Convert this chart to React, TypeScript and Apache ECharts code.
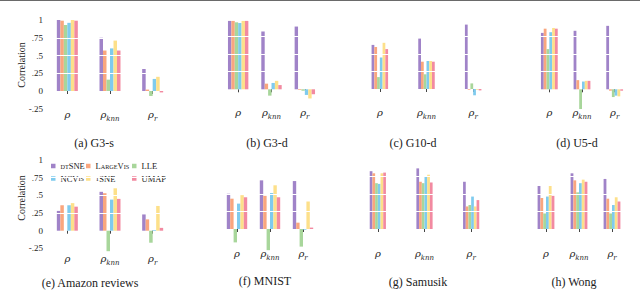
import React, { useEffect, useRef } from 'react';
import * as echarts from 'echarts';

// ---- data ----
const METHODS = ['dtSNE', 'LargeVis', 'LLE', 'NCVis', 'tSNE', 'UMAP'];
const CATEGORIES = ['rho', 'rho_knn', 'rho_r'];
const Y_TICKS = [-0.25, 0, 0.25, 0.5, 0.75, 1];
const Y_TICK_LABELS = ['-.25', '0', '.25', '.5', '.75', '1'];
const CAPTIONS = ['(a) G3-s', '(b) G3-d', '(c) G10-d', '(d) U5-d', '(e) Amazon reviews', '(f) MNIST', '(g) Samusik', '(h) Wong'];

// rows: methods (dtSNE, LargeVis, LLE, NCVis, tSNE, UMAP); columns: rho, rho_knn, rho_r
const G3S = [[1.0, 0.75, 0.31], [0.99, 0.57, 0.02], [0.93, 0.16, -0.07], [0.96, 0.6, 0.17], [1.0, 0.71, 0.2], [0.99, 0.57, -0.02]];
const G3D = [[0.97, 0.82, 0.89], [0.97, 0.08, -0.01], [0.95, -0.09, -0.02], [0.94, 0.09, -0.08], [0.97, 0.12, -0.13], [0.97, 0.06, -0.07]];
const G10D = [[0.63, 0.72, 0.92], [0.6, 0.39, -0.01], [0.17, 0.21, 0.08], [0.45, 0.4, -0.09], [0.66, 0.4, -0.01], [0.57, 0.39, -0.02]];
const U5D = [[0.8, 0.83, 0.9], [0.86, 0.13, -0.02], [0.57, -0.28, -0.11], [0.81, 0.11, -0.09], [0.87, 0.12, -0.1], [0.86, 0.12, -0.02]];
const AMAZON = [[0.28, 0.55, 0.23], [0.36, 0.53, 0.16], [0.0, -0.29, -0.17], [0.36, 0.44, 0.01], [0.39, 0.6, 0.35], [0.34, 0.45, 0.04]];
const MNIST = [[0.5, 0.69, 0.68], [0.43, 0.47, 0.09], [-0.19, -0.3, -0.25], [0.36, 0.51, -0.01], [0.48, 0.62, 0.39], [0.45, 0.45, 0.02]];
const SAMUSIK = [[0.82, 0.86, 0.67], [0.79, 0.67, 0.32], [0.65, 0.65, 0.34], [0.64, 0.75, 0.46], [0.79, 0.77, 0.32], [0.8, 0.66, 0.41]];
const WONG = [[0.61, 0.79, 0.71], [0.44, 0.69, 0.43], [0.22, 0.52, 0.22], [0.46, 0.65, 0.34], [0.61, 0.7, 0.45], [0.47, 0.67, 0.39]];
const PANEL_DATA = [G3S, G3D, G10D, U5D, AMAZON, MNIST, SAMUSIK, WONG];

// ---- styles / layout ----
const COLORS = ['#a083c8', '#f9a67e', '#a8d69b', '#7fcbee', '#fde08a', '#f28aa1'];
const SERIF = "'Liberation Serif', 'Times New Roman', 'DejaVu Serif', serif";
const MATH = "'DejaVu Serif', 'Liberation Serif', serif";
const LAYOUT = [
  { left: 46, width: 128, top: 20, zero: 91, barW: 3.5, off: 4.25, lm: 0.5, capX: 94, capY: 143, yLabels: true, corrY: 65 },
  { left: 221.5, width: 100, top: 18.8, zero: 89.3, barW: 3.4, off: 3, lm: 1.5, capX: 267, capY: 143, yLabels: false, corrY: 0 },
  { left: 356.5, width: 140, top: 19, zero: 89, barW: 2.75, off: 3, lm: 1.5, capX: 413, capY: 143, yLabels: false, corrY: 0 },
  { left: 533, width: 98, top: 18.8, zero: 89.3, barW: 2.8, off: 3, lm: 1.5, capX: 577, capY: 143, yLabels: false, corrY: 0 },
  { left: 46, width: 128, top: 160, zero: 230.7, barW: 3.5, off: 7, lm: 2, capX: 90, capY: 283, yLabels: true, corrY: 198 },
  { left: 220.5, width: 99, top: 158.5, zero: 229, barW: 3.4, off: 3, lm: 3, capX: 265, capY: 281, yLabels: false, corrY: 0 },
  { left: 354.5, width: 140, top: 158.5, zero: 229, barW: 2.7, off: 3, lm: 3, capX: 418, capY: 282, yLabels: false, corrY: 0 },
  { left: 529.5, width: 99, top: 158.5, zero: 229, barW: 2.8, off: 3, lm: 3, capX: 574, capY: 282, yLabels: false, corrY: 0 },
];
const LEGEND_POS = [
  { x: 51, y: 161.5 }, { x: 86, y: 161.5 }, { x: 132, y: 161.5 },
  { x: 51, y: 174 }, { x: 86, y: 174 }, { x: 132, y: 174 },
];
const LEGEND_RICH_TEXT: Record<string, string> = {
  dtSNE: '{sc|DT}{n|SNE}',
  LargeVis: '{n|L}{sc|ARGE}{n|V}{sc|IS}',
  LLE: '{n|LLE}',
  NCVis: '{n|NCV}{sc|IS}',
  tSNE: '{sc|T}{n|SNE}',
  UMAP: '{n|UMAP}',
};

function buildOption() {
  const grid: any[] = [];
  const xAxis: any[] = [];
  const yAxis: any[] = [];
  const series: any[] = [];
  const graphic: any[] = [];

  LAYOUT.forEach((L, gi) => {
    const height = 1.25 * (L.zero - L.top);
    grid.push({ left: L.left, top: L.top, width: L.width, height, containLabel: false });
    xAxis.push({
      type: 'category',
      gridIndex: gi,
      data: CATEGORIES,
      position: 'bottom',
      offset: L.off,
      axisLine: { show: false },
      axisTick: { show: true, alignWithLabel: true, interval: 0, length: 3, lineStyle: { color: '#444', width: 1 } },
      splitLine: { show: false },
      axisLabel: {
        interval: 0,
        hideOverlap: false,
        margin: L.lm,
        formatter: (v: string) =>
          v === 'rho' ? '{r|ρ}' : v === 'rho_knn' ? '{r|ρ}{s|knn}' : '{r|ρ}{s|r}',
        rich: {
          r: { fontFamily: MATH, fontStyle: 'italic', fontSize: 10, color: '#222', verticalAlign: 'bottom', lineHeight: 10, padding: [0, 0, 4, 0] },
          s: { fontFamily: MATH, fontStyle: 'italic', fontSize: 7, color: '#222', verticalAlign: 'bottom', lineHeight: 8, padding: [5, 0, 1, 0] },
        },
      },
    });
    yAxis.push({
      type: 'value',
      gridIndex: gi,
      min: -0.25,
      max: 1,
      interval: 0.25,
      axisLine: { show: false },
      axisTick: { show: false },
      splitLine: { show: false },
      axisLabel: {
        show: L.yLabels,
        margin: 3,
        fontFamily: SERIF,
        fontSize: 9,
        color: '#222',
        formatter: (v: number) => {
          const i = Y_TICKS.findIndex((t) => Math.abs(t - v) < 1e-6);
          return i >= 0 ? Y_TICK_LABELS[i] : '';
        },
      },
    });
    const data = PANEL_DATA[gi];
    METHODS.forEach((m, mi) => {
      series.push({
        type: 'bar',
        name: m,
        xAxisIndex: gi,
        yAxisIndex: gi,
        data: data[mi],
        barWidth: L.barW,
        barGap: '0%',
        clip: false,
        itemStyle: { color: COLORS[mi] },
        emphasis: { disabled: true },
      });
    });
    // white grid lines drawn over the bars
    series.push({
      type: 'line',
      name: 'grid-' + gi,
      xAxisIndex: gi,
      yAxisIndex: gi,
      data: [],
      z: 10,
      silent: true,
      markLine: {
        silent: true,
        symbol: 'none',
        label: { show: false },
        lineStyle: { color: '#ffffff', width: 1, type: 'solid' },
        data: [{ yAxis: 0.25 }, { yAxis: 0.5 }, { yAxis: 0.75 }],
      },
    });
    graphic.push({
      type: 'text',
      x: L.capX,
      y: L.capY,
      style: {
        text: CAPTIONS[gi],
        fontFamily: SERIF,
        fontSize: 12,
        fill: '#222',
        textAlign: 'center',
        textVerticalAlign: 'middle',
      },
    });
    if (L.yLabels) {
      graphic.push({
        type: 'text',
        x: 21,
        y: L.corrY,
        rotation: Math.PI / 2,
        style: {
          text: 'Correlation',
          fontFamily: SERIF,
          fontSize: 10,
          fill: '#222',
          textAlign: 'center',
          textVerticalAlign: 'middle',
        },
      });
    }
  });

  graphic.push({ type: 'rect', shape: { x: 0, y: 0, width: 640, height: 1 }, style: { fill: '#6a6a6a' } });

  const legend = METHODS.map((m, i) => ({
    data: [m],
    left: LEGEND_POS[i].x,
    top: LEGEND_POS[i].y,
    icon: 'rect',
    itemWidth: 4.5,
    itemHeight: 4.5,
    padding: 0,
    selectedMode: false,
    formatter: (name: string) => LEGEND_RICH_TEXT[name],
    textStyle: {
      rich: {
        n: { fontFamily: SERIF, fontSize: 8.5, color: '#222', lineHeight: 10 },
        sc: { fontFamily: SERIF, fontSize: 6.2, color: '#222', lineHeight: 10 },
      },
    },
  }));

  return {
    animation: false,
    backgroundColor: '#ffffff',
    textStyle: { fontFamily: SERIF },
    grid,
    xAxis,
    yAxis,
    series,
    legend,
    graphic,
  };
}

export default function App() {
  const ref = useRef<HTMLDivElement>(null);
  useEffect(() => {
    if (!ref.current) return;
    const chart = echarts.init(ref.current, undefined, { renderer: 'svg' });
    chart.setOption(buildOption());
    return () => chart.dispose();
  }, []);
  return (
    <div
      ref={ref}
      style={{ position: 'fixed', left: 0, top: 0, width: 640, height: 306, background: '#fff' }}
    />
  );
}
